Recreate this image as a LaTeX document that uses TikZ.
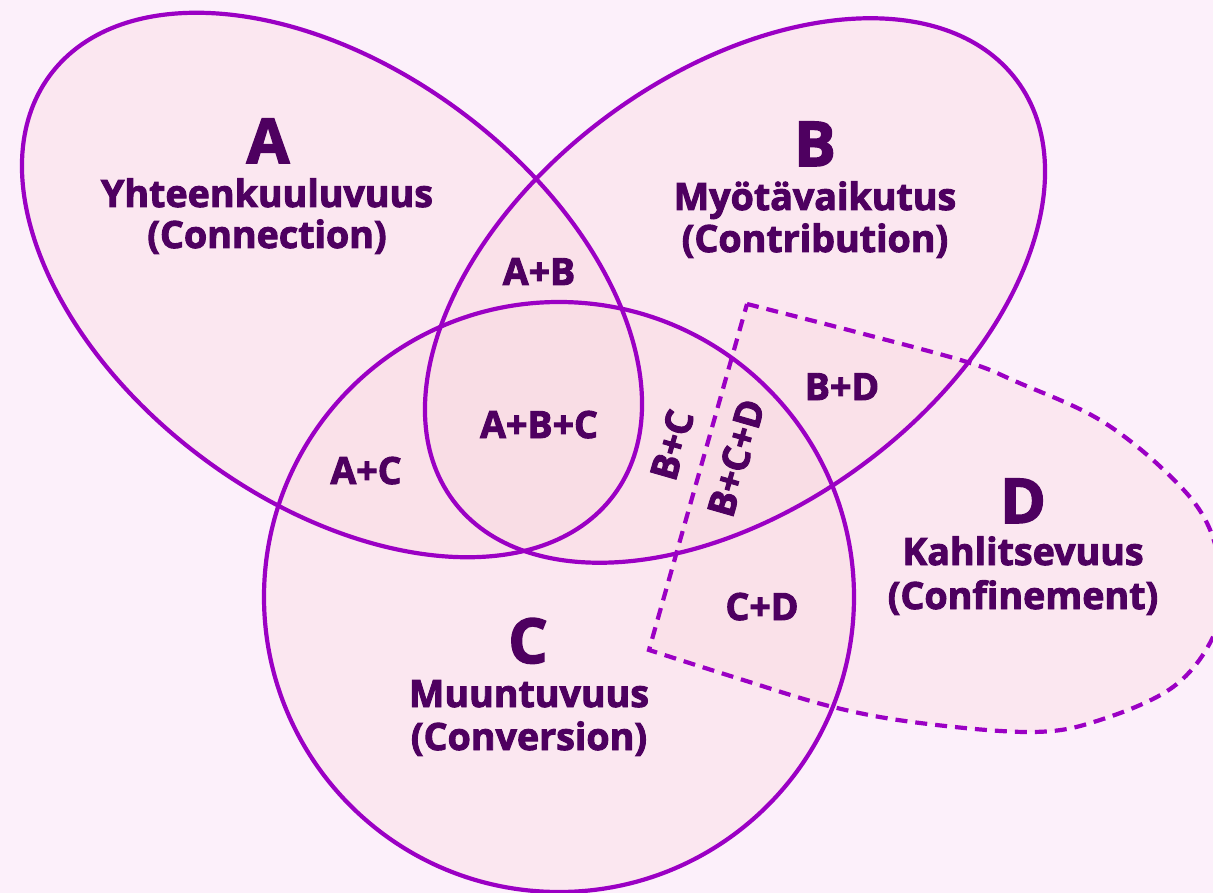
\documentclass[tikz,border=0pt]{standalone}
\usepackage{fontspec}
\setmainfont{Open Sans}[BoldFeatures={FakeBold=2.5}]
\definecolor{bgc}{RGB}{252,240,250}
\definecolor{fillc}{RGB}{249,214,221}
\definecolor{linec}{RGB}{155,0,196}
\definecolor{textc}{RGB}{78,0,96}
\tikzset{
  region/.style={fill=fillc, fill opacity=0.33, draw=none},
  outline/.style={draw=linec, line width=4.2pt},
  dashedoutline/.style={draw=linec, line width=4.2pt, dash pattern=on 12pt off 8pt},
  bigletter/.style={text=textc, font=\fontsize{62}{62}\selectfont\bfseries, anchor=base, inner sep=0pt},
  titletext/.style={text=textc, font=\fontsize{37.6}{37.6}\selectfont\bfseries, anchor=base, inner sep=0pt},
  lbl/.style={text=textc, font=\fontsize{37.5}{37.5}\selectfont\bfseries, anchor=base, inner sep=0pt},
  rlbl/.style={text=textc, font=\fontsize{37.5}{37.5}\selectfont\bfseries, anchor=center, inner sep=0pt, rotate=74},
}
\def\Dpath{plot[smooth, tension=0.6] coordinates {(747,304) (860,333) (967,362) (1017,382) (1100,420) (1167,473) (1207,523) (1222,585) (1213,637) (1173,687) (1100,720) (1033,732) (920,723) (833,707) (740,679) (649,650)} -- cycle}
\begin{document}
\begin{tikzpicture}[x=1pt,y=-1pt]
\useasboundingbox (0,0) rectangle (1213,893);
\fill[bgc] (0,0) rectangle (1213,893);
\clip (0,0) rectangle (1213,893);
% fills
\begin{scope}[shift={(332,285)}, rotate=-36.7]
  \path[region] (0,0) ellipse [x radius=351.5, y radius=216];
\end{scope}
\begin{scope}[shift={(735,290.5)}, rotate=36.7]
  \path[region] (0,0) ellipse [x radius=351.5, y radius=216];
\end{scope}
\path[region] (559,597) circle [radius=295];
\path[region] \Dpath;
% outlines
\begin{scope}[shift={(332,285)}, rotate=-36.7]
  \path[outline] (0,0) ellipse [x radius=351.5, y radius=216];
\end{scope}
\begin{scope}[shift={(735,290.5)}, rotate=36.7]
  \path[outline] (0,0) ellipse [x radius=351.5, y radius=216];
\end{scope}
\path[outline] (559,597) circle [radius=295];
\path[dashedoutline] \Dpath;
% titles
\node[bigletter] (la) at (268,163) {A};
\node[titletext] (ta1) at (267,207) {Yhteenkuuluvuus};
\node[titletext] (ta2) at (267,248) {(Connection)};
\node[bigletter] (lb) at (815,166) {B};
\node[titletext] (tb1) at (815,210) {Myötävaikutus};
\node[titletext] (tb2) at (815,252) {(Contribution)};
\node[bigletter] (lc) at (528,663) {C};
\node[titletext] (tc1) at (529,707) {Muuntuvuus};
\node[titletext] (tc2) at (529,750) {(Conversion)};
\node[bigletter] (ld) at (1023,523) {D};
\node[titletext] (td1) at (1023,565) {Kahlitsevuus};
\node[titletext] (td2) at (1023,609) {(Confinement)};
% intersection labels
\node[lbl] (ab) at (539,285) {A+B};
\node[lbl] (abc) at (539,438) {A+B+C};
\node[lbl] (ac) at (366,484) {A+C};
\node[lbl] (bd) at (842,400) {B+D};
\node[lbl] (cd) at (762,620) {C+D};
\node[rlbl] (bc) at (672,445) {B+C};
\node[rlbl] (bcd) at (736,458) {B+C+D};
\end{tikzpicture}
\end{document}
